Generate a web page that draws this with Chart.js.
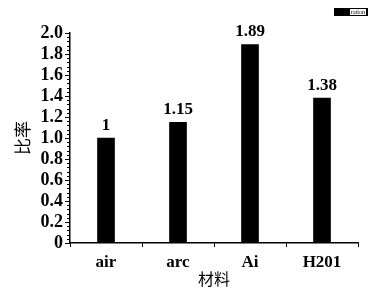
<!DOCTYPE html>
<html>
<head>
<meta charset="utf-8">
<script src="https://cdn.jsdelivr.net/npm/chart.js@4"></script>
<style>
  body { margin: 0; background: #fff; }
  #wrap { width: 370px; height: 289px; }
</style>
</head>
<body>
<div id="wrap"><canvas id="chart"></canvas></div>
<script>
// data
const categories = ["air", "arc", "Ai", "H201"];
const ratioValues = [1, 1.15, 1.89, 1.38];
const valueLabels = ["1", "1.15", "1.89", "1.38"];
const seriesName = "ration";
const yTickLabels = ["0", "0.2", "0.4", "0.6", "0.8", "1.0", "1.2", "1.4", "1.6", "1.8", "2.0"];
const yMinorPerMajor = 5;

const serif = "'Liberation Serif', 'DejaVu Serif', serif";
const cjk = "'Noto Sans CJK SC', sans-serif";

// minor y ticks, value labels above bars, small legend box in the corner
const extras = {
  id: "extras",
  afterDatasetsDraw(chart) {
    const ctx = chart.ctx;
    const meta = chart.getDatasetMeta(0);
    const y = chart.scales.y;
    ctx.save();
    ctx.strokeStyle = "#000";
    ctx.lineWidth = 1;
    const n = (yTickLabels.length - 1) * yMinorPerMajor;
    for (let i = 0; i <= n; i++) {
      if (i % yMinorPerMajor === 0) continue;
      const py = Math.round(y.getPixelForValue(y.max * i / n)) + 0.5;
      ctx.beginPath();
      ctx.moveTo(y.right - 3, py);
      ctx.lineTo(y.right, py);
      ctx.stroke();
    }
    ctx.fillStyle = "#000";
    ctx.font = "bold 17px " + serif;
    ctx.textAlign = "center";
    ctx.textBaseline = "bottom";
    meta.data.forEach((bar, i) => {
      ctx.fillText(valueLabels[i], bar.x, bar.y - 4);
    });
    // legend
    ctx.fillRect(334, 8, 34, 8);
    ctx.fillStyle = "#fff";
    ctx.fillRect(350, 9, 16, 6);
    ctx.fillStyle = "#000";
    ctx.font = "6px " + serif;
    ctx.textAlign = "center";
    ctx.textBaseline = "middle";
    ctx.fillText(seriesName, 358, 12.5);
    ctx.restore();
  },
};

new Chart(document.getElementById("chart"), {
  type: "bar",
  data: {
    labels: categories,
    datasets: [
      {
        label: seriesName,
        data: ratioValues,
        backgroundColor: "#000",
        barThickness: 17,
      },
    ],
  },
  options: {
    responsive: true,
    maintainAspectRatio: false,
    animation: false,
    layout: { padding: { top: 33, right: 12, left: 0, bottom: 0 } },
    plugins: {
      legend: { display: false },
      tooltip: { enabled: false },
    },
    scales: {
      x: {
        offset: true,
        grid: {
          offset: true,
          drawOnChartArea: false,
          tickLength: 4,
          color: "#000",
        },
        border: { color: "#000", width: 1.5 },
        ticks: {
          color: "#000",
          font: { size: 17, weight: "bold", family: serif },
          padding: 5,
        },
        title: {
          display: true,
          text: "材料",
          color: "#000",
          font: { size: 16, family: cjk },
          padding: { top: 0, bottom: 0 },
        },
        afterFit(scale) {
          scale.height = 46;
        },
      },
      y: {
        min: 0,
        max: 2,
        grid: {
          drawOnChartArea: false,
          tickLength: 5,
          color: "#000",
        },
        border: { color: "#000", width: 1.5 },
        ticks: {
          stepSize: 0.2,
          autoSkip: false,
          color: "#000",
          padding: 2,
          font: { size: 18, weight: "bold", family: serif },
          callback(v, i) {
            return yTickLabels[i];
          },
        },
        title: {
          display: true,
          text: "比率",
          color: "#000",
          font: { size: 17, family: cjk },
          padding: { top: 12, bottom: 0 },
        },
        afterFit(scale) {
          scale.width = 70;
        },
      },
    },
  },
  plugins: [extras],
});
</script>
</body>
</html>
